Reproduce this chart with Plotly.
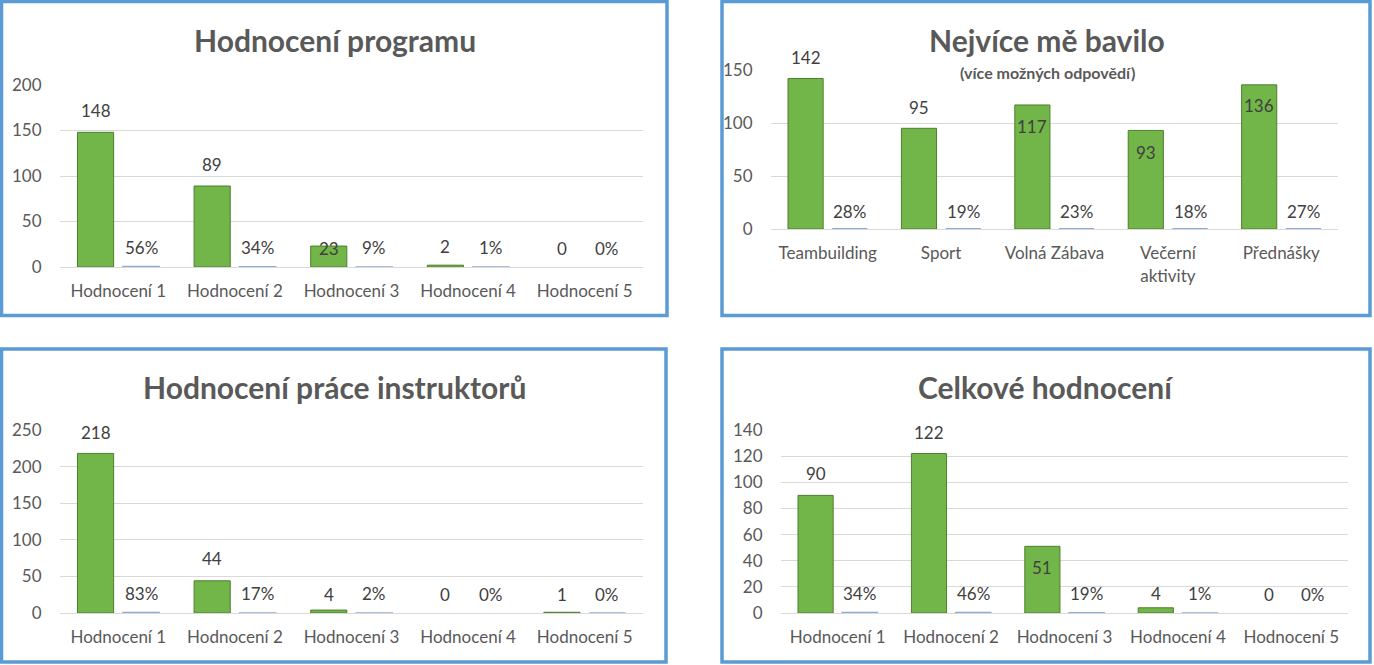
import plotly.graph_objects as go

W, H = 1374, 665

# ---------------- data ----------------
rating_cats = ["Hodnocení 1", "Hodnocení 2", "Hodnocení 3", "Hodnocení 4", "Hodnocení 5"]

program_counts = [148, 89, 23, 2, 0]
program_share = [0.56, 0.34, 0.09, 0.01, 0.0]

fun_cats = ["Teambuilding", "Sport", "Volná Zábava", "Večerní<br>aktivity", "Přednášky"]
fun_counts = [142, 95, 117, 93, 136]
fun_share = [0.28, 0.19, 0.23, 0.18, 0.27]

instr_counts = [218, 44, 4, 0, 1]
instr_share = [0.83, 0.17, 0.02, 0.0, 0.004]

overall_counts = [90, 122, 51, 4, 0]
overall_share = [0.34, 0.46, 0.19, 0.01, 0.0]

titles = ["Hodnocení programu", "Nejvíce mě bavilo", "Hodnocení práce instruktorů", "Celkové hodnocení"]
subtitle = "(více možných odpovědí)"

# ---------------- styling / layout ----------------
FONT = "Lato"
GREEN = "#72B548"
GREEN_DARK = "#4F7F2C"
BLUE = "#8EA9DB"
GRID = "#D9D9D9"
TICK_C = "#595959"
LABEL_C = "#404040"
BORDER = "#5B9BD5"

panels = [
    dict(cats=rating_cats, counts=program_counts, share=program_share, ymax=200, dtick=50,
         xdom=(60, 643), ydom=(85, 267), title_xy=(335, 40), box=(1.5, 1.5, 667, 315.5),
         gshift=[22, 22, -2, 19, 19], bshift=19, share_line=True),
    dict(cats=fun_cats, counts=fun_counts, share=fun_share, ymax=150, dtick=50,
         xdom=(771, 1338), ydom=(70, 229), title_xy=(1047, 40), box=(722, 1.5, 1370, 315.5),
         gshift=[21, 21, -22, -22, -21], bshift=17, share_line=False),
    dict(cats=rating_cats, counts=instr_counts, share=instr_share, ymax=250, dtick=50,
         xdom=(60, 643), ydom=(430, 613), title_xy=(334, 387), box=(1.5, 349, 666, 662),
         gshift=[21, 22, 16, 19, 18], bshift=19, share_line=True),
    dict(cats=rating_cats, counts=overall_counts, share=overall_share, ymax=140, dtick=20,
         xdom=(781, 1348), ydom=(430, 613), title_xy=(1046, 387), box=(722, 349, 1370, 662),
         gshift=[22, 21, -21, 14, 19], bshift=19, share_line=True),
]

G_OFF, B_OFF, BW = -0.35, 0.04, 0.31

fig = go.Figure()
annotations = []
shapes = []
layout_axes = {}

for k, p in enumerate(panels):
    n = "" if k == 0 else str(k + 1)
    xa, ya = "x" + n, "y" + n
    idx = list(range(len(p["cats"])))
    fig.add_trace(go.Bar(
        x=p["cats"], y=p["counts"], xaxis=xa, yaxis=ya,
        offset=G_OFF, width=BW, showlegend=False, hoverinfo="skip",
        marker=dict(color=GREEN, line=dict(color=GREEN_DARK,
                                           width=[1 if v > 0 else 0 for v in p["counts"]])),
    ))
    fig.add_trace(go.Bar(
        x=p["cats"], y=p["share"], xaxis=xa, yaxis=ya,
        offset=B_OFF, width=BW, showlegend=False, hoverinfo="skip",
        marker=dict(color=BLUE, line=dict(color=BLUE,
                                          width=[1.5 if (v > 0 and p["share_line"]) else 0 for v in p["share"]])),
    ))
    for i, v, s in zip(idx, p["counts"], p["gshift"]):
        annotations.append(dict(x=i + G_OFF + BW / 2, y=v, xref=xa, yref=ya, text=str(v),
                                showarrow=False, yanchor="middle", yshift=s,
                                font=dict(family=FONT, size=17, color=LABEL_C)))
    for i, v in zip(idx, p["share"]):
        annotations.append(dict(x=i + B_OFF + BW / 2, y=v, xref=xa, yref=ya,
                                text=f"{round(v * 100)}%",
                                showarrow=False, yanchor="middle", yshift=p["bshift"],
                                font=dict(family=FONT, size=17, color=LABEL_C)))
    tx, ty = p["title_xy"]
    annotations.append(dict(x=tx / W, y=1 - ty / H, xref="paper", yref="paper", text=titles[k],
                            showarrow=False, xanchor="center", yanchor="middle",
                            font=dict(family=FONT, size=30, color=TICK_C, weight="bold")))
    if k == 1:
        annotations.append(dict(x=tx / W, y=1 - 73 / H, xref="paper", yref="paper", text=subtitle,
                                showarrow=False, xanchor="center", yanchor="middle",
                                font=dict(family=FONT, size=16, color=TICK_C, weight="bold")))
    x0, y0, x1, y1 = p["box"]
    shapes.append(dict(type="rect", xref="paper", yref="paper",
                       x0=x0 / W, x1=x1 / W, y0=1 - y0 / H, y1=1 - y1 / H,
                       line=dict(color=BORDER, width=3.5), fillcolor="rgba(0,0,0,0)", layer="above"))
    layout_axes["xaxis" + n] = dict(
        domain=[p["xdom"][0] / W, p["xdom"][1] / W], anchor=ya, type="category",
        range=[-0.5, len(p["cats"]) - 0.5], showgrid=False, showline=False, zeroline=False,
        ticks="outside", ticklen=9, tickcolor="rgba(0,0,0,0)", automargin=False,
        tickfont=dict(family=FONT, size=17, color=TICK_C), fixedrange=True)
    layout_axes["yaxis" + n] = dict(
        domain=[1 - p["ydom"][1] / H, 1 - p["ydom"][0] / H], anchor=xa,
        range=[0, p["ymax"]], dtick=p["dtick"], showgrid=True, gridcolor=GRID, gridwidth=1.3,
        zeroline=True, zerolinecolor=GRID, zerolinewidth=1.3, showline=False,
        ticks="outside", ticklen=14, tickcolor="rgba(0,0,0,0)", automargin=False,
        tickfont=dict(family=FONT, size=17, color=TICK_C), fixedrange=True)

fig.update_layout(
    width=W, height=H, margin=dict(l=0, r=0, t=0, b=0, pad=0), autosize=False,
    paper_bgcolor="white", plot_bgcolor="white",
    barmode="overlay", annotations=annotations, shapes=shapes,
    font=dict(family=FONT), **layout_axes)

fig.write_html("out.html", config={"displayModeBar": False})
